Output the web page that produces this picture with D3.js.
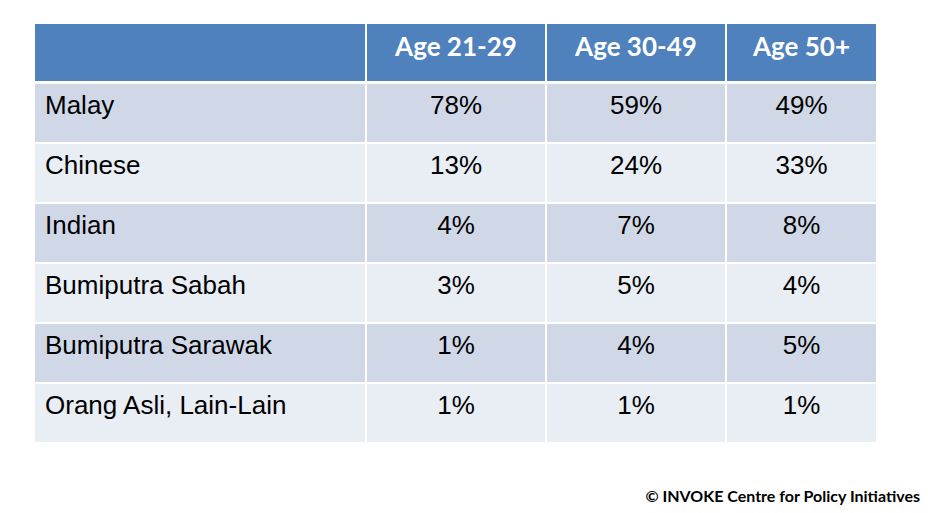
<!DOCTYPE html>
<html><head><meta charset="utf-8">
<script src="https://cdn.jsdelivr.net/npm/d3@7"></script>
<style>body{margin:0;background:#fff;}svg{display:block;}</style>
</head><body>
<script>
const groups = ["Malay","Chinese","Indian","Bumiputra Sabah","Bumiputra Sarawak","Orang Asli, Lain-Lain"];
const ageBands = ["Age 21-29","Age 30-49","Age 50+"];
const age21_29 = [78,13,4,3,1,1];
const age30_49 = [59,24,7,5,4,1];
const age50plus = [49,33,8,4,5,1];
const series = [age21_29, age30_49, age50plus];
const footer = "© INVOKE Centre for Policy Initiatives";

const W = 928, H = 513;
const svg = d3.select("body").append("svg").attr("width", W).attr("height", H);

const tableLeft = 35, tableRight = 876, firstColRight = 366;
const colX = d3.scaleOrdinal().domain(ageBands).range([[367,545],[547,725],[727,876]]);
const rowY = d3.scaleBand().domain(groups).range([84, 442]).paddingInner(0.034).paddingOuter(0);

// header
svg.append("rect").attr("x", tableLeft).attr("y", 24).attr("width", tableRight - tableLeft).attr("height", 57).attr("fill", "#4F81BD");

// body rows
svg.selectAll("rect.row").data(groups).join("rect").attr("class","row")
  .attr("x", tableLeft).attr("y", d => rowY(d)).attr("width", tableRight - tableLeft).attr("height", rowY.bandwidth())
  .attr("fill", (d,i) => i % 2 === 0 ? "#D0D8E8" : "#E9EDF4");

// vertical separators
[firstColRight, 546, 726].forEach(x => {
  svg.append("rect").attr("x", x-1).attr("y", 24).attr("width", 2).attr("height", 442-24).attr("fill", "#fff");
});

// header labels
svg.selectAll("text.hdr").data(ageBands).join("text").attr("class","hdr")
  .attr("x", d => (colX(d)[0] + colX(d)[1]) / 2).attr("y", 56)
  .attr("text-anchor", "middle").attr("fill", "#fff")
  .style("font-family", "Lato, 'Open Sans', sans-serif").style("font-weight", "bold").style("font-size", "26px")
  .text(d => d);

// row labels
svg.selectAll("text.lbl").data(groups).join("text").attr("class","lbl")
  .attr("x", 45).attr("y", d => rowY(d) + 30)
  .attr("fill", "#000")
  .style("font-family", "'Liberation Sans', Arial, sans-serif").style("font-size", "26px")
  .text(d => d);

// values
ageBands.forEach((a, j) => {
  svg.selectAll("text.v" + j).data(series[j]).join("text").attr("class", "v" + j)
    .attr("x", (colX(a)[0] + colX(a)[1]) / 2).attr("y", (d,i) => rowY(groups[i]) + 30)
    .attr("text-anchor", "middle").attr("fill", "#000")
    .style("font-family", "'Liberation Sans', Arial, sans-serif").style("font-size", "26px")
    .text(d => d + "%");
});

// footer
svg.append("text").attr("x", 920).attr("y", 502).attr("text-anchor", "end").attr("fill", "#000")
  .style("font-family", "Lato, 'Open Sans', sans-serif").style("font-weight", "bold").style("font-size", "16px")
  .text(footer);
</script>
</body></html>
